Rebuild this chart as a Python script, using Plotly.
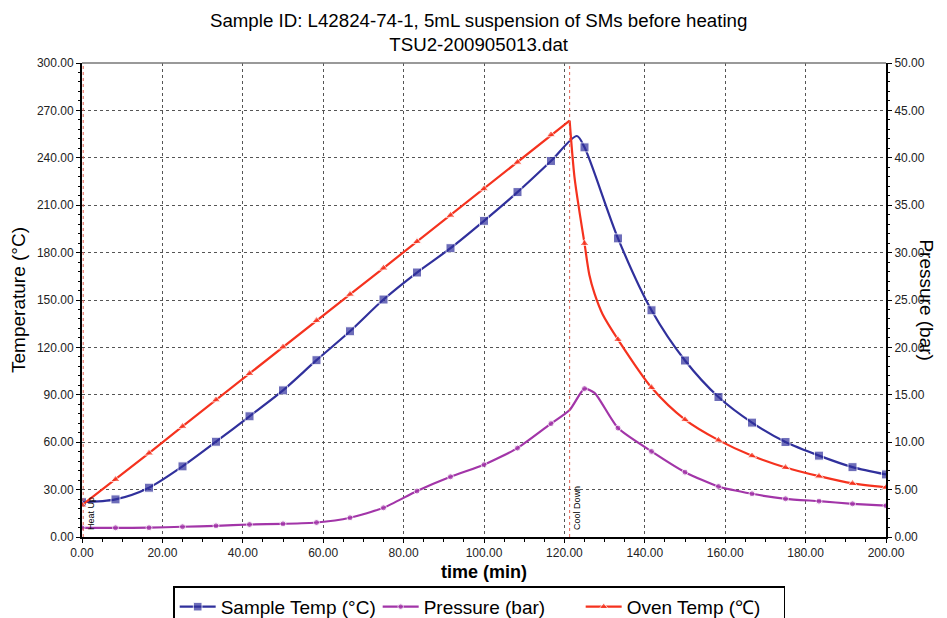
import plotly.graph_objects as go

# readings taken off the chart (time in min)
sample_time = [0, 8.33, 16.67, 25, 33.33, 41.67, 50, 58.33, 66.67, 75, 83.33, 91.67, 100,
               108.33, 116.67, 123.1, 125, 133.33, 141.67, 150, 158.33, 166.67, 175, 183.33,
               191.67, 200]
sample_temp = [22.0, 23.8, 31.2, 44.7, 60.3, 76.4, 92.8, 111.9, 130.2, 150.3, 167.4, 182.8, 200.1,
               218.3, 238.0, 253.8, 246.6, 189.0, 143.5, 111.7, 88.6, 72.4, 60.1, 51.5,
               44.2, 39.6]

oven_ramp_time = [0, 8.33, 16.67, 25, 33.33, 41.67, 50, 58.33, 66.67, 75, 83.33, 91.67, 100,
                  108.33, 116.67, 121.3]
oven_ramp_temp = [20.2, 36.4, 53.1, 70.0, 86.8, 103.5, 120.3, 137.0, 153.6, 170.2, 187.0, 203.6,
                  220.4, 237.2, 254.6, 263.5]
oven_cool_time = [121.3, 122.5, 123.8, 125, 126.2, 127.5, 129.5, 133.33, 141.67, 150, 158.33,
                  166.67, 175, 183.33, 191.67, 200]
oven_cool_temp = [263.5, 228.0, 205.0, 185.8, 166.0, 154.0, 141.0, 125.0, 94.6, 74.3, 61.3,
                  51.4, 44.0, 38.5, 33.9, 31.4]

pressure_time = [0, 8.33, 16.67, 25, 33.33, 41.67, 50, 58.33, 66.67, 75, 83.33, 91.67, 100,
                 108.33, 116.67, 121.3, 125, 127.5, 133.33, 141.67, 150, 158.33, 166.67, 175,
                 183.33, 191.67, 200]
pressure_bar = [0.97, 0.97, 0.98, 1.08, 1.18, 1.32, 1.39, 1.53, 2.03, 3.08, 4.85, 6.35, 7.63,
                9.38, 11.96, 13.4, 15.65, 15.2, 11.49, 9.03, 6.84, 5.33, 4.56, 4.03,
                3.78, 3.5, 3.3]

event_times = [0.3, 121.3]
event_labels = ["Heat Up", "Cool Down"]

BLUE = "#30309c"
PURPLE = "#a235a8"
RED = "#f5321e"
FONT = "Liberation Sans, Arial, sans-serif"


def marker_sizes(times, size):
    # the logger only puts a symbol every 8.33 min
    return [size if abs(t * 3 / 25 - round(t * 3 / 25)) < 0.02 else 0 for t in times]


fig = go.Figure()

fig.add_trace(go.Scatter(
    x=sample_time, y=sample_temp, name="Sample Temp (°C)", mode="lines+markers",
    line=dict(color=BLUE, width=2.2, shape="spline", smoothing=0.8),
    marker=dict(symbol="square", size=marker_sizes(sample_time, 9), color=BLUE),
))
fig.add_trace(go.Scatter(
    x=pressure_time, y=pressure_bar, name="Pressure (bar)", mode="lines+markers", yaxis="y2",
    line=dict(color=PURPLE, width=2.2, shape="spline", smoothing=0.6),
    marker=dict(symbol="circle", size=marker_sizes(pressure_time, 6), color=PURPLE),
))
fig.add_trace(go.Scatter(
    x=oven_ramp_time, y=oven_ramp_temp, name="Oven Temp (℃)", mode="lines+markers",
    legendgroup="oven",
    line=dict(color=RED, width=2.2),
    marker=dict(symbol="triangle-up", size=marker_sizes(oven_ramp_time, 8), color=RED),
))
fig.add_trace(go.Scatter(
    x=oven_cool_time, y=oven_cool_temp, name="Oven Temp (℃)", mode="lines+markers",
    legendgroup="oven", showlegend=False,
    line=dict(color=RED, width=2.2, shape="spline", smoothing=0.8),
    marker=dict(symbol="triangle-up", size=marker_sizes(oven_cool_time, 8), color=RED),
))

# heat up / cool down markers
for t, label in zip(event_times, event_labels):
    fig.add_shape(type="line", x0=t, x1=t, y0=0, y1=1, xref="x", yref="paper",
                  line=dict(color="#e06050", width=1, dash="dot"))
    fig.add_annotation(x=t, y=3, xref="x", yref="y", text=label, textangle=-90,
                       showarrow=False, xanchor="left", yanchor="bottom", xshift=1,
                       font=dict(family=FONT, size=9, color="black"))

# gray top border
fig.add_shape(type="line", x0=0, x1=1, y0=1, y1=1, xref="paper", yref="paper",
              line=dict(color="#777", width=1.5))

fig.add_annotation(x=1.066, y=0.5, xref="paper", yref="paper", text="Pressure (bar)",
                   textangle=90, showarrow=False,
                   font=dict(family=FONT, size=19, color="black"))

axis_common = dict(
    showline=True, linecolor="black", linewidth=2,
    ticks="outside", ticklen=4, tickcolor="black",
    tickformat=".2f", tickfont=dict(family=FONT, size=12, color="#222"),
    zeroline=False, automargin=False,
)

# the page adds an 8px body margin, so the figure is laid out 8px up/left of the target
fig.update_layout(
    width=947, height=618,
    margin=dict(l=74, r=69, t=55, b=89, autoexpand=False),
    paper_bgcolor="white", plot_bgcolor="white",
    font=dict(family=FONT, color="black"),
    title=dict(text="Sample ID: L42824-74-1, 5mL suspension of SMs before heating<br>TSU2-200905013.dat",
               x=0.497, xanchor="center", y=0.970, yanchor="middle",
               font=dict(family=FONT, size=18.7, color="black")),
    xaxis=dict(range=[0, 200], dtick=20, showgrid=True, gridcolor="#555", griddash="dot",
               gridwidth=1.2,
               minor=dict(dtick=5, ticks="outside", ticklen=3, tickcolor="black"),
               title=dict(text="<b>time (min)</b>", font=dict(family=FONT, size=18), standoff=6),
               **axis_common),
    yaxis=dict(range=[0, 300], dtick=30, showgrid=True, gridcolor="#555", griddash="dot",
               gridwidth=1.2,
               minor=dict(dtick=6, ticks="outside", ticklen=2, tickcolor="black"),
               title=dict(text="Temperature (°C)", font=dict(family=FONT, size=19), standoff=6),
               **axis_common),
    yaxis2=dict(range=[0, 50], dtick=5, overlaying="y", side="right", showgrid=False,
                minor=dict(dtick=1, ticks="outside", ticklen=2, tickcolor="black"),
                **axis_common),
    legend=dict(orientation="h", x=0.494, xanchor="center", y=-0.104, yanchor="top",
                bordercolor="black", borderwidth=1.5, bgcolor="white",
                font=dict(family=FONT, size=19, color="black"),
                itemwidth=36, entrywidth=152, traceorder="normal"),
)

fig.write_html("out.html")
